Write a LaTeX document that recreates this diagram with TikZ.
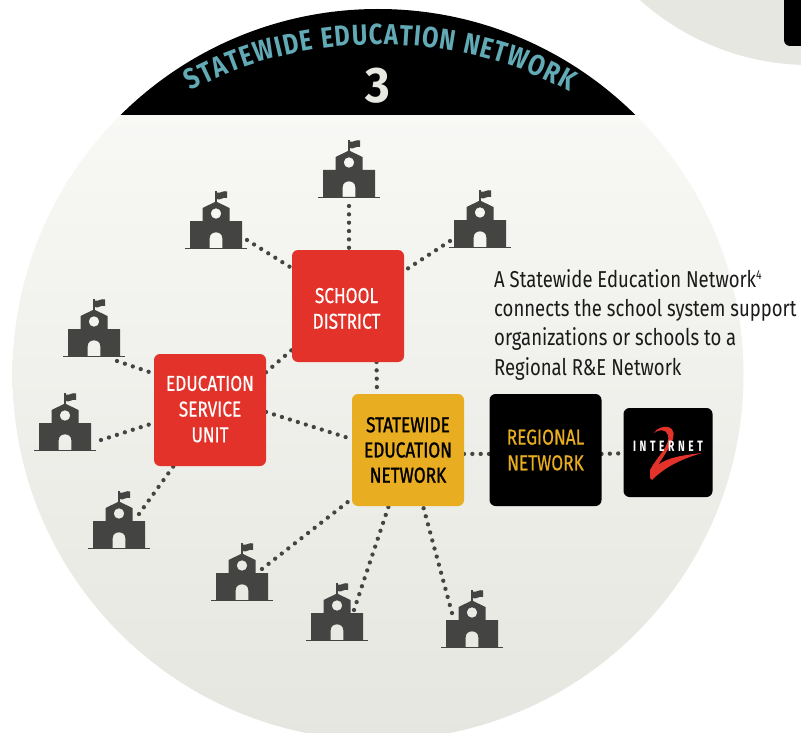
\documentclass[tikz,border=0pt]{standalone}
\usepackage{fontspec}
\usetikzlibrary{decorations.text}
\setmainfont[FakeStretch=0.805]{Fira Sans}
\newfontfamily\boxfam[FakeStretch=0.8,FakeBold=0.5]{Fira Sans}
\newfontfamily\goldfam[FakeStretch=0.8,FakeBold=1.3]{Fira Sans}
\newfontfamily\titlefontfam[FakeStretch=0.82]{Fira Sans}
\newfontfamily\numfam[FakeStretch=0.95]{Fira Sans}
\newfontfamily\logofam[FakeStretch=0.68,LetterSpace=24]{Fira Sans}
\definecolor{bgtop}{HTML}{FBFBF9}
\definecolor{bgbot}{HTML}{E5E6DF}
\definecolor{cornergrey}{HTML}{E6E7E0}
\definecolor{iconcol}{HTML}{444442}
\definecolor{redbox}{HTML}{E2322A}
\definecolor{goldbox}{HTML}{E8AD20}
\definecolor{titleteal}{HTML}{62AAB5}
\definecolor{threecol}{HTML}{E8E8E2}
\definecolor{inkcol}{HTML}{1A1A1A}
\pgfdeclarelayer{backdrop}
\pgfdeclarelayer{links}
\pgfsetlayers{backdrop,links,main}
\tikzset{
  netbox/.style={rounded corners=6pt,minimum width=112pt,minimum height=112pt,inner sep=0pt,outer sep=0pt,align=center,
    font=\fontsize{21.5}{25.7}\boxfam},
  redbb/.style={netbox,fill=redbox,text=white},
  goldbb/.style={netbox,fill=goldbox,text=black,font=\fontsize{21.5}{25.2}\goldfam},
  blackbb/.style={netbox,fill=black,text=goldbox},
  schoolbox/.style={minimum width=62pt,minimum height=58pt,inner sep=0pt,outer sep=0pt},
  dotlink/.style={draw=iconcol,line width=4.3pt,line cap=round,dash pattern=on 0pt off 8.35pt},
  school/.pic={
    \begin{scope}[shift={(0,28)}]
    \fill[iconcol,even odd rule] (-26,0) -- (-26,-27) -- (-13.5,-27) -- (-13.5,-40) -- (0,-46.5) -- (13.5,-40) -- (13.5,-27) -- (26,-27) -- (26,0) -- cycle
      (0,-34.5) circle[radius=5.3]
      (-6.3,0) -- (-6.3,-10) .. controls (-6.3,-17.5) and (6.3,-17.5) .. (6.3,-10) -- (6.3,0) -- cycle;
    \fill[iconcol] (-31,-0.4) rectangle (31,1);
    \fill[iconcol] (-0.8,-46) rectangle (0.8,-57);
    \fill[iconcol] (0.8,-55.5) .. controls (4,-54) and (7,-58) .. (11,-56.5) -- (11,-50) .. controls (7,-51.5) and (4,-47) .. (0.8,-49) -- cycle;
    \end{scope}
  }
}
\newcommand{\schoolat}[3]{\node[schoolbox] (#1) at (#2,#3-28) {}; \pic at (#1) {school};}
\begin{document}
\begin{tikzpicture}[x=1pt,y=-1pt]
\useasboundingbox (0,0) rectangle (801,733);
\begin{pgfonlayer}{backdrop}
  \fill[white] (0,0) rectangle (801,733);
  \fill[cornergrey] (810,-190) circle[radius=255];
  \fill[black,rounded corners=6pt] (784,-20) rectangle (830,46);
  \shade[top color=bgtop,bottom color=bgbot] (378,374.5) circle[radius=365.5];
  \begin{scope}
    \clip (0,0) rectangle (801,115);
    \fill[black] (378,374.5) circle[radius=365.5];
  \end{scope}
\end{pgfonlayer}

\path[decorate,decoration={text along path,text align={fit to path},
  text={|\fontsize{29}{32}\titlefontfam\bfseries\color{titleteal}|STATEWIDE EDUCATION NETWORK}}]
  (191,91) .. controls (303,29) and (458,29) .. (569,92);
\node[text=threecol,font=\fontsize{50}{50}\numfam\bfseries,inner sep=0pt] (num) at (378,86) {3};

\node[redbb] (sd) at (348,306) {\rule{0pt}{20pt}SCHOOL\hspace*{3pt}\\DISTRICT\hspace*{3pt}};
\node[redbb] (esu) at (210,410) {EDUCATION\\SERVICE\\UNIT\rule[-2pt]{0pt}{1pt}};
\node[goldbb] (sen) at (408,450) {STATEWIDE\\EDUCATION\\NETWORK};
\node[blackbb] (reg) at (545.5,450) {REGIONAL\\NETWORK};
\node[netbox,fill=black,minimum width=89pt,minimum height=89pt] (i2) at (668,452.5) {};
\fill[redbox] (654,433) .. controls (657,428) and (663,426) .. (668,427) .. controls (675,429) and (675,436) .. (671,443)
  .. controls (668,450) and (662,459) .. (658,465) .. controls (668,457) and (685,455) .. (702,453)
  .. controls (685,458) and (667,465) .. (652,480) -- (650,478) -- (650,470)
  .. controls (656,458) and (671,445) .. (668,435) .. controls (666,429) and (659,429) .. (654,433) -- cycle;
\node[text=white,font=\fontsize{15}{15}\logofam\bfseries,inner sep=0pt] (i2text) at (668,446.5) {INTERNET};

\node[text=inkcol,anchor=north west,align=left,inner sep=0pt,font=\fontsize{23}{29.3}\selectfont] (para) at (494,269)
  {A Statewide Education Network\raisebox{8pt}{\fontsize{13}{13}\selectfont 4}\\connects the school system support\\organizations or schools to a\\Regional R\&E Network};

\schoolat{s1}{349}{197}
\schoolat{s2}{216}{248}
\schoolat{s3}{480}{247}
\schoolat{s4}{94}{356}
\schoolat{s5}{65}{450}
\schoolat{s6}{119}{548}
\schoolat{s7}{242}{600}
\schoolat{s8}{337}{640}
\schoolat{s9}{472}{647}

\begin{pgfonlayer}{links}
  \draw[dotlink] ([shift={(0,37)}]s1.center) -- (sd.north -| s1.center);
  \draw[dotlink] ([shift={(31,20)}]s2.center) -- (sd.146.5);
  \draw[dotlink] ([shift={(-30,22)}]s3.center) -- (sd.32.7);
  \draw[dotlink] ([shift={(23,33)}]s4.center) -- (esu.147.3);
  \draw[dotlink] ([shift={(36,18)}]s5.center) -- (esu.193.6);
  \draw[dotlink] ([shift={(20,-6)}]s6.center) -- (esu.237.3);
  \draw[dotlink] ([shift={(20,-3)}]s7.center) -- (sen.221.2);
  \draw[dotlink] ([shift={(17,-2)}]s8.center) -- (sen.251.5);
  \draw[dotlink] ([shift={(-20,-6)}]s9.center) -- (sen.-75);
  \draw[dotlink] (esu.34.9) -- (sd.218.8);
  \draw[dotlink] (sd.-63.43) -- (sen.119.74);
  \draw[dotlink] (esu.-2) -- (sen.169);
  \draw[dotlink] (sen.-4.1) -- (reg.184.1);
  \draw[dotlink] (reg.-4.1) -- (i2.181.9);
\end{pgfonlayer}
\end{tikzpicture}
\end{document}
